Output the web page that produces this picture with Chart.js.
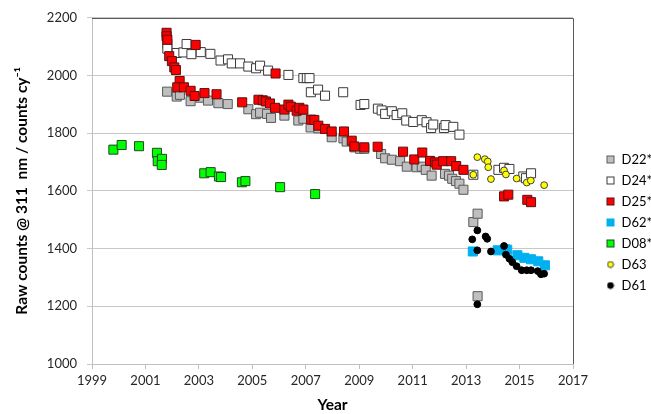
<!DOCTYPE html>
<html>
<head>
<meta charset="utf-8">
<title>Raw counts @ 311 nm</title>
<script src="https://cdn.jsdelivr.net/npm/chart.js@4.4.1/dist/chart.umd.min.js"></script>
<style>
  html, body { margin: 0; padding: 0; background: #fff; }
  #chart { display: block; }
</style>
</head>
<body>
<canvas id="chart" width="651" height="414"></canvas>
<script>
// values (year, raw counts)
const seriesNames = ['D22*', 'D24*', 'D25*', 'D62*', 'D08*', 'D63', 'D61'];
const xTicks = [1999, 2001, 2003, 2005, 2007, 2009, 2011, 2013, 2015, 2017];
const yTicks = [1000, 1200, 1400, 1600, 1800, 2000, 2200];

const d22Years = [2001.81, 2002.17, 2002.29, 2002.69, 2003.06, 2003.34, 2003.73, 2004.08, 2004.85, 2005.14, 2005.29, 2005.55, 2005.70, 2006.20, 2006.72, 2006.91, 2007.18, 2007.47, 2007.97, 2008.41, 2008.53, 2008.82, 2009.03, 2009.19, 2009.82, 2009.97, 2010.22, 2010.53, 2010.78, 2011.15, 2011.34, 2011.49, 2011.71, 2012.21, 2012.36, 2012.48, 2012.62, 2012.75, 2012.90, 2013.27, 2013.43, 2013.43];
const d22Values = [1944, 1927, 1933, 1911, 1923, 1913, 1904, 1901, 1883, 1866, 1871, 1867, 1853, 1861, 1844, 1850, 1820, 1817, 1786, 1782, 1771, 1751, 1746, 1746, 1728, 1713, 1708, 1703, 1684, 1682, 1684, 1673, 1653, 1659, 1653, 1642, 1634, 1625, 1604, 1492, 1521, 1235];

const d24Years = [2001.82, 2001.82, 2002.17, 2002.42, 2002.54, 2002.72, 2003.07, 2003.43, 2003.81, 2004.09, 2004.23, 2004.54, 2004.85, 2005.14, 2005.29, 2005.59, 2006.35, 2006.91, 2007.04, 2007.14, 2007.19, 2007.46, 2007.72, 2008.40, 2009.05, 2009.19, 2009.70, 2009.84, 2009.97, 2010.22, 2010.40, 2010.61, 2010.76, 2011.02, 2011.34, 2011.52, 2011.69, 2011.77, 2012.17, 2012.23, 2012.52, 2012.75, 2013.27, 2014.21, 2014.42, 2014.62, 2015.14, 2015.24, 2015.43];
const d24Values = [2110, 2093, 2078, 2080, 2109, 2074, 2081, 2075, 2052, 2056, 2042, 2042, 2031, 2025, 2034, 2017, 2002, 1991, 1991, 1991, 1942, 1951, 1930, 1942, 1898, 1901, 1885, 1879, 1867, 1876, 1863, 1869, 1844, 1839, 1845, 1838, 1818, 1830, 1818, 1828, 1822, 1795, 1656, 1673, 1680, 1676, 1650, 1644, 1661];

const d25Years = [2001.79, 2001.79, 2001.82, 2001.89, 2001.99, 2002.08, 2002.14, 2002.88, 2002.28, 2002.19, 2002.44, 2002.69, 2002.84, 2003.21, 2003.66, 2004.62, 2005.23, 2005.39, 2005.51, 2005.66, 2005.87, 2005.85, 2006.20, 2006.35, 2006.44, 2006.66, 2006.76, 2006.91, 2007.20, 2007.32, 2007.47, 2007.72, 2007.97, 2008.43, 2008.72, 2008.82, 2009.19, 2009.69, 2010.64, 2011.06, 2011.36, 2011.65, 2011.84, 2011.90, 2012.14, 2012.44, 2012.63, 2012.90, 2014.42, 2014.58, 2015.29, 2015.43];
const d25Values = [2148, 2136, 2124, 2067, 2050, 2028, 2019, 2106, 1981, 1959, 1959, 1947, 1929, 1939, 1935, 1907, 1916, 1914, 1910, 1903, 2007, 1888, 1882, 1899, 1892, 1878, 1888, 1882, 1847, 1846, 1826, 1815, 1806, 1806, 1774, 1754, 1751, 1753, 1736, 1709, 1733, 1704, 1699, 1691, 1703, 1703, 1686, 1673, 1581, 1587, 1569, 1561];

const d62Years = [2013.25, 2014.18, 2014.46, 2014.54, 2014.92, 2015.18, 2015.43, 2015.70, 2015.95];
const d62Values = [1390, 1394, 1398, 1396, 1377, 1368, 1363, 1356, 1342];

const d08Years = [1999.80, 2000.11, 2000.76, 2001.43, 2001.46, 2001.62, 2001.61, 2003.20, 2003.44, 2003.75, 2003.83, 2004.61, 2004.74, 2006.04, 2007.35];
const d08Values = [1743, 1759, 1755, 1732, 1703, 1711, 1690, 1661, 1665, 1650, 1648, 1630, 1634, 1613, 1589];

const d63Years = [2013.27, 2013.42, 2013.70, 2013.81, 2013.83, 2013.93, 2014.42, 2014.49, 2014.89, 2015.27, 2015.42, 2015.92];
const d63Values = [1656, 1717, 1710, 1702, 1682, 1641, 1671, 1657, 1643, 1629, 1636, 1620];

const d61Years = [2013.23, 2013.42, 2013.42, 2013.73, 2013.79, 2013.93, 2014.42, 2014.49, 2014.62, 2014.73, 2014.89, 2015.08, 2015.27, 2015.43, 2015.68, 2015.80, 2015.92, 2013.42];
const d61Values = [1432, 1463, 1394, 1442, 1434, 1390, 1409, 1379, 1365, 1353, 1339, 1325, 1325, 1325, 1322, 1311, 1313, 1207];

const seriesYears = [d22Years, d24Years, d25Years, d62Years, d08Years, d63Years, d61Years];
const seriesValues = [d22Values, d24Values, d25Values, d62Values, d08Values, d63Values, d61Values];

// marker looks, same order as seriesNames
const looks = [
    { shape: 'rect', fill: '#bfbfbf', stroke: '#595959' },
    { shape: 'rect', fill: '#ffffff', stroke: '#3a3a3a' },
    { shape: 'rect', fill: '#ff0000', stroke: '#5a1010' },
    { shape: 'rect', fill: '#00b0f0', stroke: '#00b0f0' },
    { shape: 'rect', fill: '#00ff00', stroke: '#1f4a1f' },
    { shape: 'circle', fill: '#ffff00', stroke: '#404040' },
    { shape: 'circle', fill: '#000000', stroke: '#000000' }
];

const FONT = 'Lato, "Open Sans", sans-serif';

function legendMarker(look) {
    const size = look.shape === 'rect' ? 8 : 6;
    const c = document.createElement('canvas');
    c.width = size + 2;
    c.height = size + 2;
    const g = c.getContext('2d');
    g.fillStyle = look.fill;
    g.strokeStyle = look.stroke;
    g.lineWidth = 1;
    if (look.shape === 'rect') {
        g.fillRect(1, 1, size, size);
        g.strokeRect(1.5, 1.5, size - 1, size - 1);
    } else {
        g.beginPath();
        g.arc(c.width / 2, c.height / 2, size / 2, 0, Math.PI * 2);
        g.fill();
        g.stroke();
    }
    return c;
}
const legendMarkers = looks.map(legendMarker);

const datasets = seriesNames.map(function (name, i) {
    const look = looks[i];
    return {
        label: name,
        data: seriesYears[i].map(function (year, j) { return { x: year, y: seriesValues[i][j] }; }),
        pointStyle: look.shape === 'rect' ? 'rect' : 'circle',
        pointRadius: look.shape === 'rect' ? 6.4 : 3.4,
        pointBackgroundColor: look.fill,
        pointBorderColor: look.stroke,
        pointBorderWidth: 1,
        backgroundColor: look.fill,
        borderColor: look.stroke,
        showLine: false,
        order: seriesNames.length - i   // later series drawn on top, like the original
    };
});

// top and right edge of the plot area are a darker frame
const plotFrame = {
    id: 'plotFrame',
    beforeDatasetsDraw(chart) {
        const a = chart.chartArea;
        const ctx = chart.ctx;
        ctx.save();
        ctx.strokeStyle = '#5a5a5a';
        ctx.lineWidth = 1;
        ctx.beginPath();
        ctx.moveTo(a.left, Math.round(a.top) + 0.5);
        ctx.lineTo(Math.round(a.right) + 0.5, Math.round(a.top) + 0.5);
        ctx.lineTo(Math.round(a.right) + 0.5, a.bottom);
        ctx.stroke();
        ctx.restore();
    }
};

// the legend sits to the right of the plot, somewhat below the middle
const LEGEND_LEFT = 598;
const LEGEND_TOP = 145;
const legendPlace = {
    id: 'legendPlace',
    afterLayout(chart) {
        const l = chart.legend;
        const w = l.width, h = l.height;
        l.left = LEGEND_LEFT; l.right = LEGEND_LEFT + w;
        l.top = LEGEND_TOP; l.bottom = LEGEND_TOP + h;
    }
};

new Chart(document.getElementById('chart'), {
    type: 'scatter',
    data: { datasets: datasets },
    plugins: [plotFrame, legendPlace],
    options: {
        responsive: false,
        animation: false,
        devicePixelRatio: 1,
        layout: { padding: { left: 0, top: 17, right: 78, bottom: 0 } },
        plugins: {
            tooltip: { enabled: false },
            legend: {
                position: 'chartArea',
                align: 'start',
                labels: {
                    usePointStyle: true,
                    boxWidth: 9,
                    boxHeight: 9,
                    padding: 8,
                    color: '#000',
                    font: { family: FONT, size: 13 },
                    generateLabels: function (chart) {
                        const items = Chart.defaults.plugins.legend.labels.generateLabels(chart);
                        items.forEach(function (item) { item.pointStyle = legendMarkers[item.datasetIndex]; });
                        return items;
                    },
                    sort: function (a, b) { return a.datasetIndex - b.datasetIndex; }
                }
            }
        },
        scales: {
            x: {
                type: 'linear',
                min: 1999,
                max: 2017,
                afterFit: function (scale) { scale.height = 50; },
                afterBuildTicks: function (scale) { scale.ticks = xTicks.map(function (v) { return { value: v }; }); },
                ticks: {
                    color: '#262626',
                    font: { family: FONT, size: 13 },
                    padding: 4,
                    callback: function (v) { return String(v); }
                },
                grid: { drawOnChartArea: false, drawTicks: true, tickLength: 5, color: '#bfbfbf' },
                border: { display: true, color: '#bfbfbf', width: 1 },
                title: {
                    display: true,
                    text: 'Year',
                    color: '#000',
                    font: { family: FONT, size: 15.5, weight: 'bold' },
                    padding: { top: 0, bottom: 0 }
                }
            },
            y: {
                type: 'linear',
                min: 1000,
                max: 2200,
                afterFit: function (scale) { scale.width = 92; },
                afterBuildTicks: function (scale) { scale.ticks = yTicks.map(function (v) { return { value: v }; }); },
                ticks: {
                    color: '#262626',
                    font: { family: FONT, size: 13 },
                    padding: 10,
                    callback: function (v) { return String(v); }
                },
                grid: { color: '#c8c8c8', lineWidth: 1, drawTicks: true, tickLength: 5 },
                border: { display: true, color: '#bfbfbf', width: 1 },
                title: {
                    display: true,
                    text: 'Raw counts @ 311  nm / counts cy\u207B\u00B9',
                    color: '#000',
                    font: { family: FONT, size: 15.5, weight: 'bold' },
                    padding: { top: 13, bottom: 0 }
                }
            }
        }
    }
});
</script>
</body>
</html>
